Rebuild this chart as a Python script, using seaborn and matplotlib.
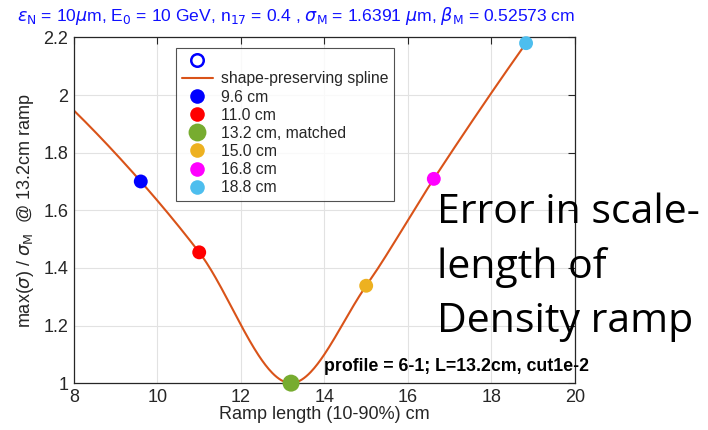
import numpy as np
import matplotlib
matplotlib.use("Agg")
import matplotlib.pyplot as plt
import seaborn as sns
import pandas as pd
from matplotlib.lines import Line2D

# ---- data ----
ramp_len = [9.6, 11.0, 13.2, 15.0, 16.62, 18.83]
ratio = [1.70, 1.454, 1.0, 1.338, 1.709, 2.18]
labels = ["9.6 cm", "11.0 cm", "13.2 cm, matched", "15.0 cm", "16.8 cm", "18.8 cm"]
colors = ["#0000FF", "#FF0000", "#77AC30", "#EDB120", "#FF00FF", "#4DBEEE"]
marker_sizes = [100, 100, 150, 100, 100, 100]
# spline knots (includes curve start at x=8)
knot_x = [8.0] + ramp_len
knot_y = [1.946] + ratio


def pchip(x, y, xq):
    x = np.asarray(x, float); y = np.asarray(y, float)
    h = np.diff(x); d = np.diff(y) / h
    n = len(x); m = np.zeros(n)
    for k in range(1, n - 1):
        if d[k - 1] * d[k] > 0:
            w1 = 2 * h[k] + h[k - 1]; w2 = h[k] + 2 * h[k - 1]
            m[k] = (w1 + w2) / (w1 / d[k - 1] + w2 / d[k])
    def end(h0, h1, d0, d1):
        v = ((2 * h0 + h1) * d0 - h0 * d1) / (h0 + h1)
        if np.sign(v) != np.sign(d0):
            v = 0.0
        elif np.sign(d0) != np.sign(d1) and abs(v) > abs(3 * d0):
            v = 3 * d0
        return v
    m[0] = end(h[0], h[1], d[0], d[1])
    m[-1] = end(h[-1], h[-2], d[-1], d[-2])
    idx = np.clip(np.searchsorted(x, xq) - 1, 0, n - 2)
    t = (xq - x[idx]) / h[idx]
    h00 = 2 * t**3 - 3 * t**2 + 1; h10 = t**3 - 2 * t**2 + t
    h01 = -2 * t**3 + 3 * t**2; h11 = t**3 - t**2
    return h00 * y[idx] + h10 * h[idx] * m[idx] + h01 * y[idx + 1] + h11 * h[idx] * m[idx + 1]


xs = np.linspace(knot_x[0], knot_x[-1], 400)
ys = pchip(knot_x, knot_y, xs)
spline_df = pd.DataFrame({"x": xs, "y": ys})
pts_df = pd.DataFrame({"x": ramp_len, "y": ratio, "label": labels, "size": marker_sizes})

sns.set_theme(style="white")
plt.rcParams["font.family"] = ["Liberation Sans", "DejaVu Sans"]
plt.rcParams["mathtext.fontset"] = "dejavusans"

fig = plt.figure(figsize=(7.08, 4.30), dpi=100)
ax = fig.add_axes([0.1045, 0.109, 0.7075, 0.804])

sns.lineplot(data=spline_df, x="x", y="y", ax=ax, color="#D95319", linewidth=1.5, zorder=2)
sns.scatterplot(data=pts_df, x="x", y="y", hue="label", palette=colors, size="label",
                sizes=dict(zip(labels, marker_sizes)), ax=ax, edgecolor="none", zorder=3,
                legend=False, clip_on=False)

ax.set_xlim(8, 20)
ax.set_ylim(1, 2.2)
ax.set_xticks([8, 10, 12, 14, 16, 18, 20])
ax.set_yticks([1, 1.2, 1.4, 1.6, 1.8, 2, 2.2])
ax.set_xticklabels(["8", "10", "12", "14", "16", "18", "20"])
ax.set_yticklabels(["1", "1.2", "1.4", "1.6", "1.8", "2", "2.2"])
ax.grid(True, color="#E2E2E2", linewidth=0.8)
ax.set_axisbelow(True)
ax.tick_params(axis="both", direction="in", length=5, width=0.8, labelsize=13,
               top=True, right=True, colors="#262626", pad=4)
ax.tick_params(axis="both", labelcolor="#262626")
for s in ax.spines.values():
    s.set_color("#262626"); s.set_linewidth(0.9); s.set_visible(True)

ax.set_xlabel("Ramp length (10-90%) cm", fontsize=13, color="#262626", labelpad=0)
ax.set_ylabel(r"max($\sigma$) / $\sigma_{\rm M}$  @ 13.2cm ramp", fontsize=13, color="#262626", labelpad=5)

fig.text(296 / 708, 0.962, r"$\epsilon_{\rm N}$ = 10$\mu$m, E$_0$ = 10 GeV, n$_{17}$ = 0.4 , $\sigma_{\rm M}$ = 1.6391 $\mu$m, $\beta_{\rm M}$ = 0.52573 cm",
         ha="center", va="center", fontsize=12.6, color="#1010FF")

ax.text(14.0, 1.059, "profile = 6-1; L=13.2cm, cut1e-2", fontsize=12.8, fontweight="bold",
        color="black", ha="left", va="center", zorder=4, clip_on=False)

fig.text(437 / 708, 1 - 267 / 430, "Error in scale-\nlength of\nDensity ramp", fontsize=29.5,
         family=["Open Sans", "DejaVu Sans"], color="black", ha="left", va="center",
         linespacing=1.45, zorder=5)

handles = [Line2D([], [], marker="o", linestyle="none", markerfacecolor="none",
                  markeredgecolor="#0000FF", markeredgewidth=1.8, markersize=9),
           Line2D([], [], color="#D95319", linewidth=1.5)]
for c, s in zip(colors, marker_sizes):
    handles.append(Line2D([], [], marker="o", linestyle="none", color=c,
                          markersize=np.sqrt(s) * 1.05, markeredgecolor="none"))
leg = ax.legend(handles, [" ", "shape-preserving spline"] + labels, loc="upper left",
                bbox_to_anchor=(0.204, 0.97), fontsize=11.3, frameon=True, fancybox=False,
                edgecolor="#262626", handlelength=2.0, handletextpad=0.5,
                labelspacing=0.2, borderpad=0.35, borderaxespad=0)
leg.get_frame().set_linewidth(0.8)

fig.savefig("out.png", dpi=100)
